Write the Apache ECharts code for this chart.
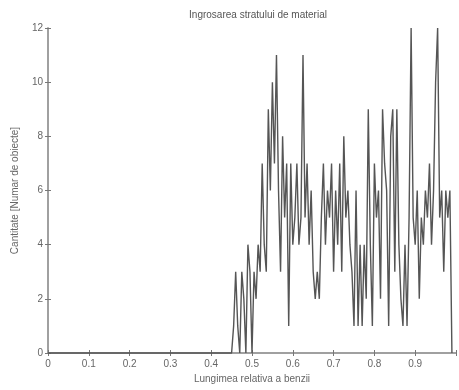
<!DOCTYPE html>
<html><head><meta charset="utf-8">
<script src="https://cdn.jsdelivr.net/npm/echarts@6/dist/echarts.min.js"></script>
<style>html,body{margin:0;padding:0;background:#fff}#c{width:459px;height:390px}</style>
</head><body><div id="c"></div>
<script>
const titleText = "Ingrosarea stratului de material";
const xName = "Lungimea relativa a benzii";
const yName = "Cantitate [Numar de obiecte]";
const xTicks = [0,0.1,0.2,0.3,0.4,0.5,0.6,0.7,0.8,0.9];
const yTicks = [0,2,4,6,8,10,12];
const xStep = 0.005;
// counts per bin, x = 0, 0.005, 0.010, ... 0.99
const counts = [
0,0,0,0,0,0,0,0,0,0, 0,0,0,0,0,0,0,0,0,0,
0,0,0,0,0,0,0,0,0,0, 0,0,0,0,0,0,0,0,0,0,
0,0,0,0,0,0,0,0,0,0, 0,0,0,0,0,0,0,0,0,0,
0,0,0,0,0,0,0,0,0,0, 0,0,0,0,0,0,0,0,0,0,
0,0,0,0,0,0,0,0,0,0, 0,
1,3,1,0,3,2,0,4,3,0,
3,2,4,3,7,4,3,9,6,10,
7,11,6,3,8,5,7,1,7,4,
5,7,4,5,11,5,7,4,6,3,
2,3,2,5,7,4,6,5,7,3,
6,4,7,3,8,5,6,4,3,1,
6,1,4,1,4,2,9,4,1,7,
5,6,2,9,7,6,1,8,9,3,
9,4,2,1,4,1,5,12,5,4,
6,2,5,4,6,5,7,4,6,10,
12,5,6,3,6,5,6,0
];
const seriesData = counts.map((v,i)=>[+(i*xStep).toFixed(3), v]);

const chart = echarts.init(document.getElementById('c'), null, {renderer:'canvas'});
const txt = '#666';
const axCol = '#9a9a9a';
const font = 'Liberation Sans, Arial, sans-serif';
chart.setOption({
  animation:false,
  backgroundColor:'#fff',
  title:{text:titleText,left:253,top:5,textAlign:'center',
    textStyle:{fontSize:10,fontWeight:'normal',color:'#555',fontFamily:font}},
  grid:{left:48,right:-1,top:28,bottom:37},
  xAxis:[{
    type:'value',min:0,max:1,interval:0.1,
    name:xName,nameLocation:'middle',nameGap:21,
    nameTextStyle:{fontSize:10,color:txt,fontFamily:font},
    axisLine:{onZero:false,lineStyle:{color:axCol,width:1.5}},
    axisTick:{inside:true,length:3,lineStyle:{color:'#777'}},
    splitLine:{show:false},
    axisLabel:{fontSize:10,color:txt,fontFamily:font,margin:6,
      formatter:v=>{const t=xTicks.find(a=>Math.abs(a-v)<1e-6);return t===undefined?'':String(t);}}
  },{
    type:'value',min:0,max:1,interval:0.1,position:'top',
    axisLine:{lineStyle:{color:axCol,width:1.5}},
    axisTick:{inside:true,length:3,lineStyle:{color:'#777'}},
    axisLabel:{show:false},splitLine:{show:false}
  }],
  yAxis:[{
    type:'value',min:0,max:12,interval:2,
    name:yName,nameLocation:'middle',nameGap:28,
    nameTextStyle:{fontSize:10,color:txt,fontFamily:font},
    axisLine:{show:true,lineStyle:{color:axCol,width:1.5}},
    axisTick:{show:true,inside:true,length:3,lineStyle:{color:'#777'}},
    splitLine:{show:false},
    axisLabel:{fontSize:10,color:txt,fontFamily:font,margin:5,
      formatter:v=>yTicks.includes(v)?String(v):''}
  },{
    type:'value',min:0,max:12,interval:2,position:'right',
    axisLine:{show:true,lineStyle:{color:axCol,width:1.5}},
    axisTick:{show:true,inside:true,length:3,lineStyle:{color:'#777'}},
    axisLabel:{show:false},splitLine:{show:false}
  }],
  series:[{
    type:'line',data:seriesData,xAxisIndex:0,yAxisIndex:0,
    showSymbol:false,symbol:'none',
    lineStyle:{color:'#555',width:1.4},
    clip:false
  }]
});
</script></body></html>
